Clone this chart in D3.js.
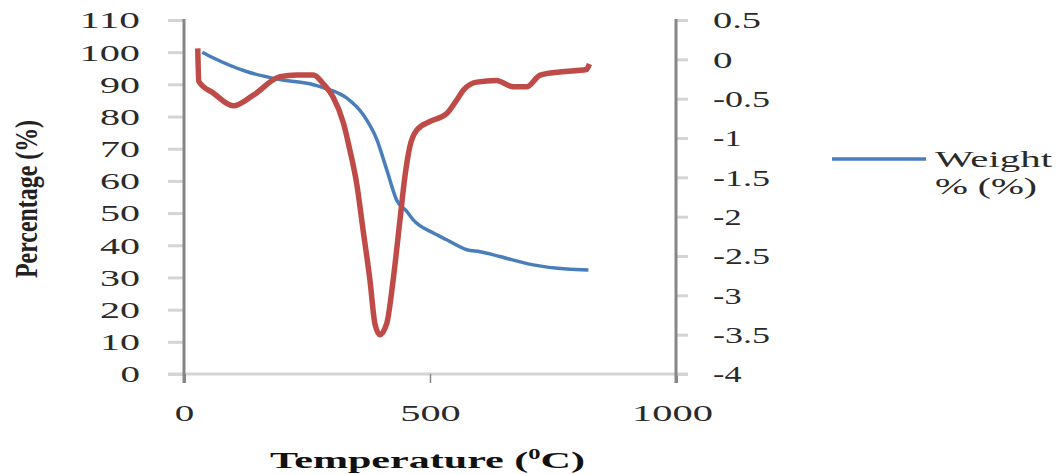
<!DOCTYPE html>
<html>
<head>
<meta charset="utf-8">
<script src="https://cdn.jsdelivr.net/npm/d3@7"></script>
<style>
  html, body { margin: 0; padding: 0; background: #fff; }
  svg { display: block; }
</style>
</head>
<body>
<script>
// ---- data ----
const weightTemp = [37, 60, 127, 195, 263, 297, 331, 364, 392, 412, 432, 453, 466, 507, 534, 575, 602, 642, 710, 778, 822];
const weightPct  = [100, 98.2, 94.0, 91.5, 89.9, 88.3, 85.7, 80.6, 72.8, 63.5, 54.1, 50.5, 47.9, 43.8, 41.7, 38.6, 38.0, 36.5, 33.9, 32.6, 32.3];

const derivTemp = [28, 30, 60, 100, 141, 195, 229, 263, 283, 303, 324, 337, 351, 364, 378, 388, 398, 412, 425, 439, 449, 459, 473, 500, 534, 554, 568, 595, 635, 669, 696, 724, 764, 818, 824];
const derivVal  = [0.14, -0.28, -0.43, -0.59, -0.455, -0.22, -0.20, -0.20, -0.31, -0.48, -0.81, -1.15, -1.58, -2.17, -2.81, -3.36, -3.50, -3.36, -2.81, -2.04, -1.49, -1.11, -0.90, -0.79, -0.69, -0.52, -0.39, -0.29, -0.27, -0.35, -0.35, -0.20, -0.16, -0.13, -0.06];

const xTicks = [0, 500, 1000];
const leftTicks = [0, 10, 20, 30, 40, 50, 60, 70, 80, 90, 100, 110];
const rightTicks = [0.5, 0, -0.5, -1, -1.5, -2, -2.5, -3, -3.5, -4];

const xTitle = "Temperature (";
const xTitleSup = "0";
const xTitleEnd = "C)";
const yTitle = "Percentage (%)";
const legendLines = ["Weight", "% (%)"];

// ---- layout ----
const W = 1057, H = 474;
const svg = d3.select("body").append("svg").attr("width", W).attr("height", H);

const x = d3.scaleLinear().domain([0, 1000]).range([184, 676]);
const yL = d3.scaleLinear().domain([0, 110]).range([374, 20]);
const yR = d3.scaleLinear().domain([-4, 0.5]).range([374, 20]);

const FONT = "Liberation Serif";
const AXIS_COL = "#868686", TICK_COL = "#d4d4d4", TXT = "#2a2a2a";

// stretched label width (the reference text is widened)
function labelWidth(s) {
  let w = 0;
  for (const c of s) w += (c === ".") ? 8 : (c === "-") ? 9 : (c === " ") ? 8 : 20.5;
  return w - 1;
}
function styleTick(sel) {
  sel.attr("font-family", FONT).attr("font-size", 23).attr("fill", TXT)
    .attr("lengthAdjust", "spacingAndGlyphs")
    .attr("textLength", function () { return labelWidth(this.textContent); });
}

// x axis (light baseline)
svg.append("line")
  .attr("x1", x(0) - 16).attr("x2", x(1000) + 12)
  .attr("y1", yL(0)).attr("y2", yL(0))
  .attr("stroke", TICK_COL).attr("stroke-width", 3);

const gx = svg.append("g").attr("transform", `translate(0,${yL(0)})`)
  .call(d3.axisBottom(x).tickValues(xTicks).tickSize(9).tickPadding(22).tickFormat(d3.format("d")));
gx.select(".domain").remove();
gx.selectAll(".tick line").attr("stroke", AXIS_COL).attr("stroke-width", d => d === 500 ? 1.5 : 3);
gx.selectAll(".tick text").call(styleTick).attr("dx", d => d === 1000 ? -4 : 0);

// left axis
const gl = svg.append("g").attr("transform", `translate(${x(0)},0)`)
  .call(d3.axisLeft(yL).tickValues(leftTicks).tickSize(16).tickPadding(28).tickFormat(d3.format("d")));
gl.select(".domain").remove();
gl.selectAll(".tick line").attr("stroke", TICK_COL).attr("stroke-width", 3);
gl.selectAll(".tick text").call(styleTick).attr("dy", "0.34em");
svg.append("line")
  .attr("x1", x(0)).attr("x2", x(0))
  .attr("y1", yL(110) - 1).attr("y2", yL(0) + 9)
  .attr("stroke", AXIS_COL).attr("stroke-width", 3);

// right axis
const gr = svg.append("g").attr("transform", `translate(${x(1000)},0)`)
  .call(d3.axisRight(yR).tickValues(rightTicks).tickSize(12).tickPadding(25).tickFormat(d => String(d)));
gr.select(".domain").remove();
gr.selectAll(".tick line").attr("stroke", TICK_COL).attr("stroke-width", 3);
gr.selectAll(".tick text").call(styleTick).attr("dy", "0.34em");
svg.append("line")
  .attr("x1", x(1000)).attr("x2", x(1000))
  .attr("y1", yR(0.5) - 1).attr("y2", yR(-4) + 9)
  .attr("stroke", AXIS_COL).attr("stroke-width", 3);

// series
const weightData = weightTemp.map((t, i) => [t, weightPct[i]]);
const derivData = derivTemp.map((t, i) => [t, derivVal[i]]);

svg.append("path").datum(weightData)
  .attr("fill", "none").attr("stroke", "#4a7ebb").attr("stroke-width", 3.5)
  .attr("stroke-linejoin", "round")
  .attr("d", d3.line().x(d => x(d[0])).y(d => yL(d[1])).curve(d3.curveMonotoneX));

svg.append("path").datum(derivData)
  .attr("fill", "none").attr("stroke", "#be4b48").attr("stroke-width", 5.5)
  .attr("stroke-linejoin", "round")
  .attr("d", d3.line().x(d => x(d[0])).y(d => yR(d[1])).curve(d3.curveMonotoneX));

// legend
svg.append("line").attr("x1", 832).attr("x2", 926).attr("y1", 159).attr("y2", 159)
  .attr("stroke", "#4a7ebb").attr("stroke-width", 3.5);
svg.append("text").attr("x", 935).attr("y", 167)
  .attr("font-family", FONT).attr("font-size", 23).attr("fill", TXT)
  .attr("textLength", 117).attr("lengthAdjust", "spacingAndGlyphs")
  .text(legendLines[0]);
svg.append("text").attr("x", 935).attr("y", 194)
  .attr("font-family", FONT).attr("font-size", 23).attr("fill", TXT)
  .attr("textLength", 102).attr("lengthAdjust", "spacingAndGlyphs")
  .text(legendLines[1]);

// x title
const xt = svg.append("text").attr("x", 270).attr("y", 468)
  .attr("font-family", FONT).attr("font-size", 24).attr("font-weight", "bold")
  .attr("fill", "#111")
  .attr("textLength", 315).attr("lengthAdjust", "spacingAndGlyphs");
xt.append("tspan").text(xTitle);
xt.append("tspan").attr("font-size", 14).attr("dy", -9).text(xTitleSup);
xt.append("tspan").attr("dy", 9).text(xTitleEnd);

// y title
svg.append("text")
  .attr("transform", "translate(37,199) rotate(-90)")
  .attr("text-anchor", "middle")
  .attr("font-family", FONT).attr("font-size", 31).attr("font-weight", "bold")
  .attr("fill", "#222")
  .attr("textLength", 158).attr("lengthAdjust", "spacingAndGlyphs")
  .text(yTitle);
</script>
</body>
</html>
